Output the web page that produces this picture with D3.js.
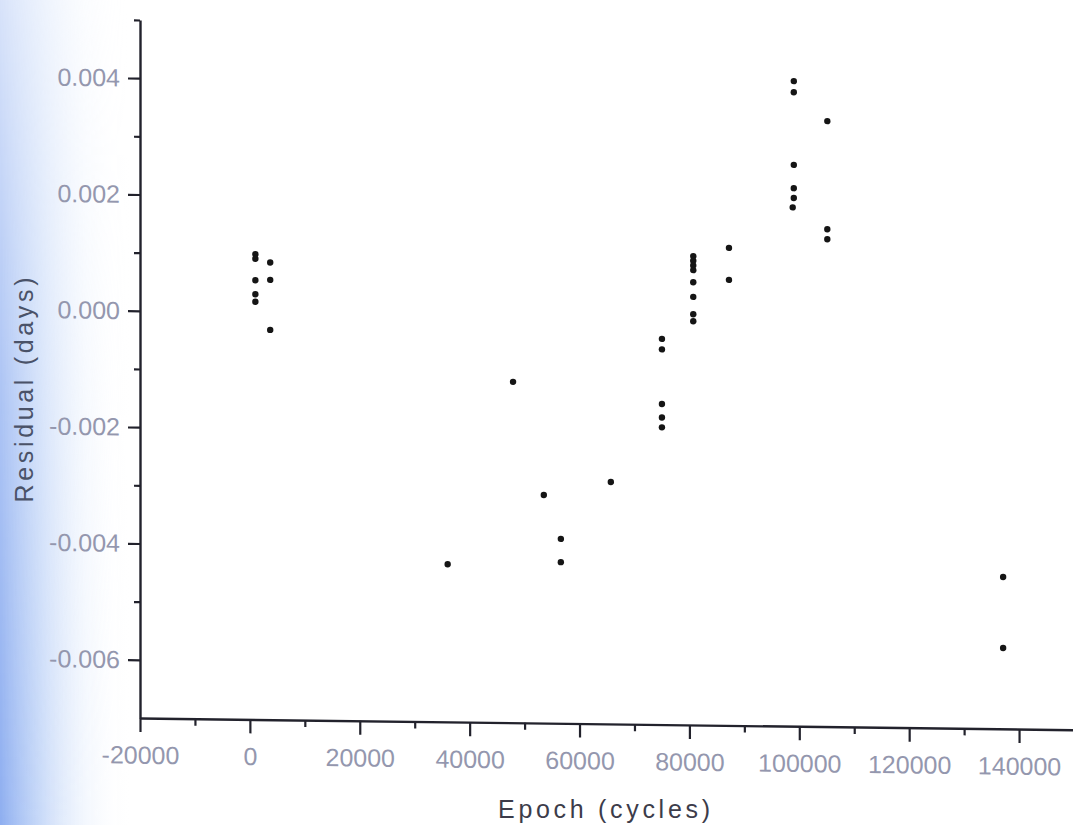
<!DOCTYPE html>
<html>
<head>
<meta charset="utf-8">
<script src="https://cdn.jsdelivr.net/npm/d3@7"></script>
<style>
  html, body { margin: 0; padding: 0; background: #fff; }
  svg { display: block; }
</style>
</head>
<body>
<svg id="chart" width="1073" height="825"></svg>
<script>
// O-C residuals of times of minimum against cycle number
const epochs = [
  1000, 1000, 3700, 1000, 3700, 1000, 1000, 3700,
  36000, 47900, 53500, 56600, 56600, 65700,
  75000, 75000, 75000, 75000, 75000,
  80700, 80700, 80700, 80700, 80700, 80700, 80700, 80700,
  87200, 87200,
  99000, 99000, 99000, 99000, 99000, 98800,
  105100, 105100, 105100,
  137100, 137100
];
const residuals = [
  0.00100, 0.00092, 0.00086, 0.00055, 0.00056, 0.00031, 0.00018, -0.00030,
  -0.00429, -0.00114, -0.00308, -0.00383, -0.00423, -0.00284,
  -0.00037, -0.00055, -0.00149, -0.00172, -0.00189,
  0.00106, 0.00098, 0.00090, 0.00082, 0.00061, 0.00036, 0.00006, -0.00006,
  0.00121, 0.00066,
  0.00409, 0.00390, 0.00265, 0.00225, 0.00208, 0.00192,
  0.00341, 0.00155, 0.00138,
  -0.00439, -0.00561
];
const xMajorTicks = [-20000, 0, 20000, 40000, 60000, 80000, 100000, 120000, 140000];
const xMinorTicks = [-10000, 10000, 30000, 50000, 70000, 90000, 110000, 130000, 150000];
const yMajorTicks = [-0.006, -0.004, -0.002, 0.000, 0.002, 0.004];
const yMinorTicks = [-0.005, -0.003, -0.001, 0.001, 0.003, 0.005];
const xTitle = "Epoch (cycles)";
const yTitle = "Residual (days)";

const W = 1073, H = 825;
const svg = d3.select("#chart");
const defs = svg.append("defs");

// bluish shading along the left edge of the sheet
const edge = defs.append("linearGradient").attr("id", "edge")
  .attr("x1", 0).attr("x2", 1).attr("y1", 0).attr("y2", 0);
edge.append("stop").attr("offset", 0).attr("stop-color", "#8eaef0").attr("stop-opacity", 1);
edge.append("stop").attr("offset", 0.3).attr("stop-color", "#b4ccf6").attr("stop-opacity", 0.75);
edge.append("stop").attr("offset", 0.65).attr("stop-color", "#dce8fb").attr("stop-opacity", 0.35);
edge.append("stop").attr("offset", 1).attr("stop-color", "#ffffff").attr("stop-opacity", 0);
const fade = defs.append("linearGradient").attr("id", "fade")
  .attr("x1", 0).attr("x2", 0).attr("y1", 0).attr("y2", 1);
fade.append("stop").attr("offset", 0).attr("stop-color", "#fff").attr("stop-opacity", 0.35);
fade.append("stop").attr("offset", 0.5).attr("stop-color", "#fff").attr("stop-opacity", 0.75);
fade.append("stop").attr("offset", 1).attr("stop-color", "#fff").attr("stop-opacity", 1);
defs.append("mask").attr("id", "fadeMask")
  .append("rect").attr("width", 130).attr("height", H).attr("fill", "url(#fade)");

svg.append("rect").attr("width", W).attr("height", H).attr("fill", "#ffffff");
svg.append("rect").attr("width", 130).attr("height", H)
  .attr("fill", "url(#edge)").attr("mask", "url(#fadeMask)");

const x = d3.scaleLinear().domain([-20000, 150000]).range([140, 1074]);
const y = d3.scaleLinear().domain([-0.007, 0.005]).range([718, 20]);

// the sheet sits slightly tilted: horizontal lines drop toward the right
const ox = x(-20000), oy = y(-0.007);
const plot = svg.append("g")
  .attr("transform", `translate(${ox},${oy}) skewY(0.72) translate(${-ox},${-oy})`);

const labelFont = "'Liberation Sans', Arial, sans-serif";
const axisColor = "#22222c";
const hyphen = s => s.replace(/\u2212/g, "-");
const fmtX = v => hyphen(d3.format("d")(v));
const fmtY = v => hyphen(d3.format(".3f")(v));

function styleAxis(g) {
  g.select(".domain").attr("stroke", axisColor).attr("stroke-width", 2.4);
  g.selectAll(".tick line").attr("stroke", axisColor).attr("stroke-width", 2.2);
  g.selectAll(".tick text")
    .attr("font-family", labelFont)
    .attr("font-size", 25)
    .attr("fill", "#9497ae");
}

// x axis: major + minor ticks
const xMinor = plot.append("g").attr("transform", `translate(0,${oy})`)
  .call(d3.axisBottom(x).tickValues(xMinorTicks).tickSize(7).tickSizeOuter(0).tickFormat(""));
xMinor.select(".domain").remove();
xMinor.selectAll(".tick line").attr("stroke", axisColor).attr("stroke-width", 2.2);

const xAxis = plot.append("g").attr("transform", `translate(0,${oy})`)
  .call(d3.axisBottom(x).tickValues(xMajorTicks).tickSize(14).tickSizeOuter(0)
    .tickPadding(14).tickFormat(fmtX));
styleAxis(xAxis);
xAxis.selectAll(".tick text").attr("dy", "0.71em");

// y axis: major + minor ticks
const yMinor = plot.append("g").attr("transform", `translate(${ox},0)`)
  .call(d3.axisLeft(y).tickValues(yMinorTicks).tickSize(6).tickSizeOuter(0).tickFormat(""));
yMinor.select(".domain").remove();
yMinor.selectAll(".tick line").attr("stroke", axisColor).attr("stroke-width", 2.2);

const yAxis = plot.append("g").attr("transform", `translate(${ox},0)`)
  .call(d3.axisLeft(y).tickValues(yMajorTicks).tickSize(12).tickSizeOuter(0)
    .tickPadding(8).tickFormat(fmtY));
styleAxis(yAxis);

// data points
plot.append("g").selectAll("circle")
  .data(epochs.map((e, i) => ({ e, r: residuals[i] })))
  .join("circle")
  .attr("cx", d => x(d.e))
  .attr("cy", d => y(d.r))
  .attr("r", 3.2)
  .attr("fill", "#151515");

// axis titles
svg.append("text")
  .attr("x", 604).attr("y", 818)
  .attr("text-anchor", "middle")
  .attr("font-family", labelFont)
  .attr("font-size", 25)
  .attr("textLength", 212)
  .attr("lengthAdjust", "spacing")
  .attr("fill", "#3c3c4a")
  .text(xTitle);

svg.append("text")
  .attr("transform", "translate(33,390) rotate(-90)")
  .attr("text-anchor", "middle")
  .attr("font-family", labelFont)
  .attr("font-size", 25)
  .attr("textLength", 225)
  .attr("lengthAdjust", "spacing")
  .attr("fill", "#4a5268")
  .text(yTitle);
</script>
</body>
</html>
